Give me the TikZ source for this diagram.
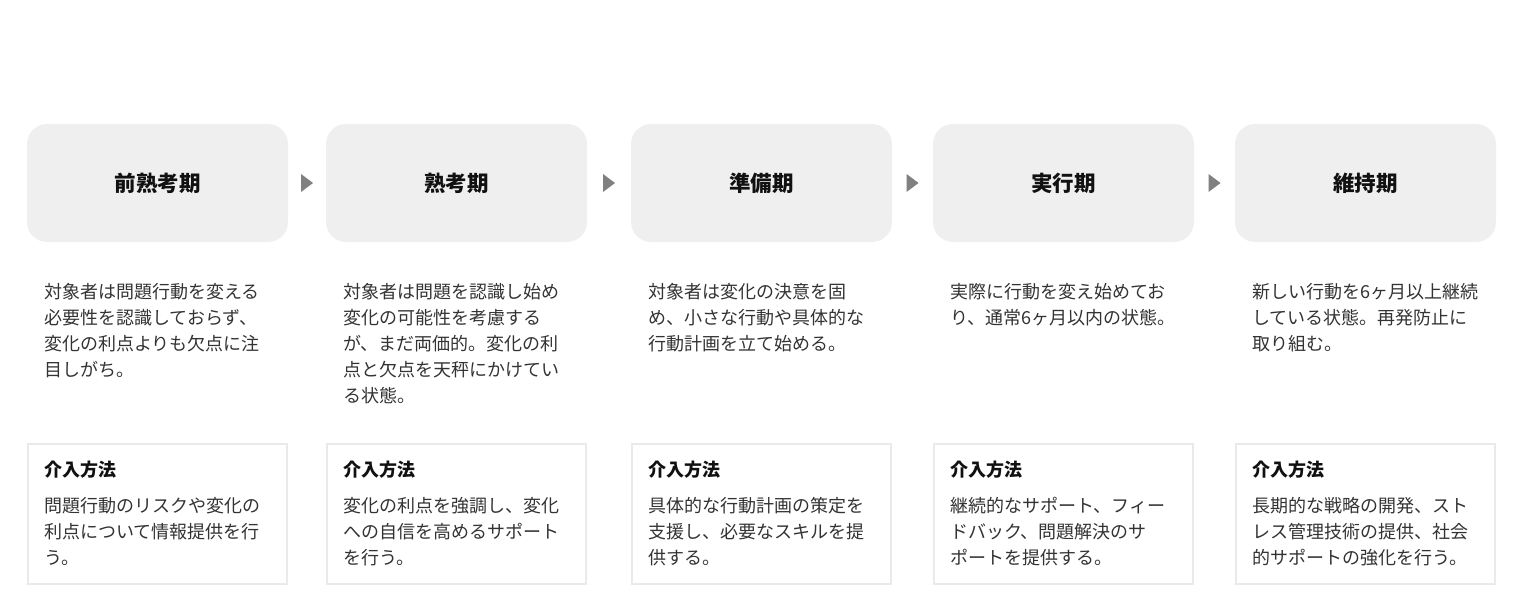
\documentclass[tikz,border=0pt]{standalone}
\usepackage{fontspec}
\setmainfont{Noto Sans CJK JP}
\usetikzlibrary{calc}
\definecolor{boxgray}{HTML}{EFEFEF}
\definecolor{bordergray}{HTML}{EAEAEA}
\definecolor{arrowgray}{HTML}{808080}
\definecolor{titlecol}{HTML}{111111}
\definecolor{desccol}{HTML}{333333}
\begin{document}
\begin{tikzpicture}[x=1pt,y=-1pt,
  stage/.style={rounded corners=20pt, fill=boxgray, minimum width=261pt, minimum height=118pt, inner sep=0pt,
    font=\fontsize{21.5}{26}\selectfont\bfseries, text=titlecol},
  desc/.style={anchor=north west, inner sep=0pt, align=left, font=\fontsize{18}{26}\selectfont, text=desccol},
  ibox/.style={draw=bordergray, line width=2pt, fill=white, minimum width=259pt, minimum height=140pt, inner sep=0pt},
  ihead/.style={anchor=north west, inner sep=0pt, font=\fontsize{18}{26}\selectfont\bfseries, text=titlecol},
  ibody/.style={anchor=north west, inner sep=0pt, align=left, font=\fontsize{18}{26}\selectfont, text=desccol},
  tri/.style={fill=arrowgray}
]
\useasboundingbox (0,0) rectangle (1536,615);

% stage boxes
\node[stage] (s1) at (157.5,183) {前熟考期};
\node[stage] (s2) at (456.5,183) {熟考期};
\node[stage] (s3) at (761.5,183) {準備期};
\node[stage] (s4) at (1063.5,183) {実行期};
\node[stage] (s5) at (1365.5,183) {維持期};

% arrows
\foreach \a/\b in {s1/s2,s2/s3,s3/s4,s4/s5}{
  \fill[tri] ($(\a.east)!0.5!(\b.west)$) +(-6,-9) -- +(6,0) -- +(-6,9) -- cycle;
}

% descriptions
\node[desc] (d1) at (44,283) {対象者は問題行動を変える\\必要性を認識しておらず、\\変化の利点よりも欠点に注\\目しがち。};
\node[desc] (d2) at (343,283) {対象者は問題を認識し始め\\変化の可能性を考慮する\\が、まだ両価的。変化の利\\点と欠点を天秤にかけてい\\る状態。};
\node[desc] (d3) at (648,283) {対象者は変化の決意を固\\め、小さな行動や具体的な\\行動計画を立て始める。};
\node[desc] (d4) at (950,283) {実際に行動を変え始めてお\\り、通常6ヶ月以内の状態。};
\node[desc] (d5) at (1252,283) {新しい行動を6ヶ月以上継続\\している状態。再発防止に\\取り組む。};

% intervention boxes
\node[ibox] (i1) at (157.5,514) {};
\node[ibox] (i2) at (456.5,514) {};
\node[ibox] (i3) at (761.5,514) {};
\node[ibox] (i4) at (1063.5,514) {};
\node[ibox] (i5) at (1365.5,514) {};

\node[ihead] (h1) at (44,461) {介入方法};
\node[ihead] (h2) at (343,461) {介入方法};
\node[ihead] (h3) at (648,461) {介入方法};
\node[ihead] (h4) at (950,461) {介入方法};
\node[ihead] (h5) at (1252,461) {介入方法};

\node[ibody] (b1) at (44,497) {問題行動のリスクや変化の\\利点について情報提供を行\\う。};
\node[ibody] (b2) at (343,497) {変化の利点を強調し、変化\\への自信を高めるサポート\\を行う。};
\node[ibody] (b3) at (648,497) {具体的な行動計画の策定を\\支援し、必要なスキルを提\\供する。};
\node[ibody] (b4) at (950,497) {継続的なサポート、フィー\\ドバック、問題解決のサ\\ポートを提供する。};
\node[ibody] (b5) at (1252,497) {長期的な戦略の開発、スト\\レス管理技術の提供、社会\\的サポートの強化を行う。};
\end{tikzpicture}
\end{document}
